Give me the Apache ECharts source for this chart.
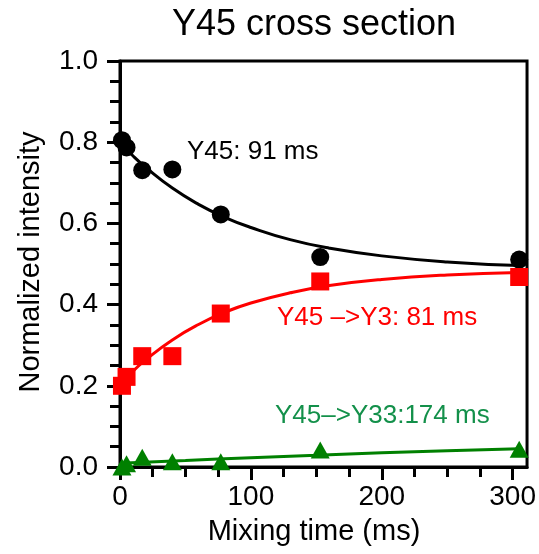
<!DOCTYPE html>
<html><head><meta charset="utf-8">
<script src="https://cdn.jsdelivr.net/npm/echarts@6/dist/echarts.min.js"></script>
<style>html,body{margin:0;padding:0;background:#fff}#c{width:539px;height:554px}</style>
</head><body><div id="c"></div>
<script>
const mixingTimes = [1.5, 5, 17, 40, 77, 153, 305];
const y45Values = [0.805, 0.787, 0.731, 0.733, 0.622, 0.517, 0.511];
const y3Values = [0.200, 0.222, 0.273, 0.273, 0.378, 0.457, 0.468];
const y33Values = [0.000, 0.008, 0.024, 0.013, 0.013, 0.042, 0.044];

const fitTimes = [0, 10, 20, 40, 60, 80, 100, 130, 160, 200, 250, 305];
const y45Fit = [0.800, 0.766, 0.737, 0.687, 0.647, 0.615, 0.590, 0.560, 0.539, 0.520, 0.505, 0.496];
const y3Fit = [0.203, 0.236, 0.265, 0.313, 0.351, 0.381, 0.404, 0.429, 0.447, 0.462, 0.473, 0.479];
const y33FitTimes = [0, 50, 100, 150, 200, 250, 305];
const y33Fit = [0.009, 0.016, 0.023, 0.029, 0.035, 0.040, 0.045];

const xMajorTicks = [0, 100, 200, 300];
const xMinorTicks = [25, 50, 75, 125, 150, 175, 225, 250, 275];

const titleText = 'Y45 cross section';
const xName = 'Mixing time (ms)';
const yName = 'Normalized intensity';
const labelY45 = 'Y45: 91 ms';
const labelY3 = 'Y45 \u2013>Y3: 81 ms';
const labelY33 = 'Y45\u2013>Y33:174 ms';

const FONT = '"Liberation Sans", Arial, sans-serif';
const pair = (xs, ys) => xs.map((x, i) => [x, ys[i]]);

const chart = echarts.init(document.getElementById('c'), null, {renderer: 'canvas'});
const axisLineStyle = {color: '#000', width: 3};
chart.setOption({
  animation: false,
  backgroundColor: '#fff',
  grid: {left: 120, right: 11, top: 61, bottom: 87, show: true, borderColor: '#000', borderWidth: 3, backgroundColor: 'transparent'},
  xAxis: [{
    type: 'value', min: 0, max: 311, position: 'bottom',
    axisLine: {show: true, lineStyle: axisLineStyle},
    axisTick: {show: true, customValues: xMajorTicks, length: 13, inside: false, lineStyle: {color: '#000', width: 3}},
    axisLabel: {customValues: xMajorTicks, fontSize: 28, fontFamily: FONT, color: '#000', margin: 16},
    splitLine: {show: false}
  }, {
    type: 'value', min: 0, max: 311, position: 'bottom',
    axisLine: {show: false},
    axisTick: {show: true, customValues: xMinorTicks, length: 10, inside: false, lineStyle: {color: '#000', width: 3}},
    axisLabel: {show: false},
    splitLine: {show: false}
  }],
  yAxis: {
    type: 'value', min: 0, max: 1, interval: 0.2,
    axisLine: {show: true, lineStyle: axisLineStyle},
    axisTick: {show: true, length: 13, lineStyle: {color: '#000', width: 3}},
    minorTick: {show: true, splitNumber: 4, length: 10, lineStyle: {color: '#000', width: 3}},
    axisLabel: {fontSize: 28, fontFamily: FONT, color: '#000', margin: 22, formatter: v => v.toFixed(1)},
    splitLine: {show: false},
    minorSplitLine: {show: false}
  },
  graphic: [
    {type: 'text', x: 314, y: 25, style: {text: titleText, font: '36px ' + FONT, fill: '#000', align: 'center', verticalAlign: 'middle', textAlign: 'center', textVerticalAlign: 'middle'}},
    {type: 'text', x: 314, y: 532, style: {text: xName, font: '29px ' + FONT, fill: '#000', align: 'center', verticalAlign: 'middle', textAlign: 'center', textVerticalAlign: 'middle'}},
    {type: 'text', x: 31, y: 262, rotation: Math.PI / 2, style: {text: yName, font: '29px ' + FONT, fill: '#000', align: 'center', verticalAlign: 'middle', textAlign: 'center', textVerticalAlign: 'middle'}},
    {type: 'text', x: 187, y: 152, style: {text: labelY45, font: '26px ' + FONT, fill: '#000', align: 'left', verticalAlign: 'middle', textAlign: 'left', textVerticalAlign: 'middle'}},
    {type: 'text', x: 277, y: 318, style: {text: labelY3, font: '26px ' + FONT, fill: '#ff0000', align: 'left', verticalAlign: 'middle', textAlign: 'left', textVerticalAlign: 'middle'}},
    {type: 'text', x: 275, y: 416, style: {text: labelY33, font: '26px ' + FONT, fill: '#13904a', align: 'left', verticalAlign: 'middle', textAlign: 'left', textVerticalAlign: 'middle'}}
  ],
  series: [
    {type: 'line', data: pair(fitTimes, y45Fit), smooth: true, showSymbol: false, lineStyle: {color: '#000', width: 3}, z: 2},
    {type: 'line', data: pair(fitTimes, y3Fit), smooth: true, showSymbol: false, lineStyle: {color: '#ff0000', width: 3}, z: 2},
    {type: 'line', data: pair(y33FitTimes, y33Fit), smooth: true, showSymbol: false, lineStyle: {color: '#008000', width: 3}, z: 2},
    {type: 'scatter', data: pair(mixingTimes, y45Values), symbol: 'circle', symbolSize: 18, itemStyle: {color: '#000', opacity: 1}, clip: false, z: 3},
    {type: 'scatter', data: pair(mixingTimes, y3Values), symbol: 'rect', symbolSize: 18, itemStyle: {color: '#ff0000', opacity: 1}, clip: false, z: 3},
    {type: 'scatter', data: pair(mixingTimes, y33Values), symbol: 'triangle', symbolSize: [19, 17], itemStyle: {color: '#008000', opacity: 1}, clip: false, z: 3}
  ]
});
</script></body></html>
